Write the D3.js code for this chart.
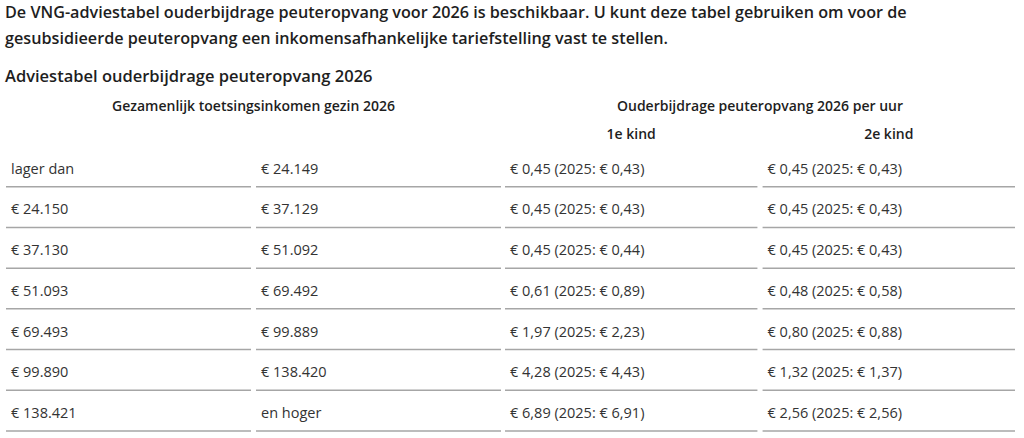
<!DOCTYPE html>
<html>
<head>
<meta charset="utf-8">
<script src="https://cdn.jsdelivr.net/npm/d3@7"></script>
<style>
  body { margin: 0; background: #fff; }
  text { font-family: "Open Sans", "Noto Sans", sans-serif; fill: #1e1e1e; }
</style>
</head>
<body>
<div id="chart"></div>
<script>
const incomeFrom = ["lager dan", 24150, 37130, 51093, 69493, 99890, 138421];
const incomeTo = [24149, 37129, 51092, 69492, 99889, 138420, "en hoger"];
const kind1_2026 = [0.45, 0.45, 0.45, 0.61, 1.97, 4.28, 6.89];
const kind1_2025 = [0.43, 0.43, 0.44, 0.89, 2.23, 4.43, 6.91];
const kind2_2026 = [0.45, 0.45, 0.45, 0.48, 0.80, 1.32, 2.56];
const kind2_2025 = [0.43, 0.43, 0.43, 0.58, 0.88, 1.37, 2.56];

const introLines = [
  "De VNG-adviestabel ouderbijdrage peuteropvang voor 2026 is beschikbaar. U kunt deze tabel gebruiken om voor de",
  "gesubsidieerde peuteropvang een inkomensafhankelijke tariefstelling vast te stellen."
];
const tableTitle = "Adviestabel ouderbijdrage peuteropvang 2026";
const groupHeaders = ["Gezamenlijk toetsingsinkomen gezin 2026", "Ouderbijdrage peuteropvang 2026 per uur"];
const subHeaders = ["", "", "1e kind", "2e kind"];

const width = 1024, height = 438;

const nl = d3.formatLocale({ decimal: ",", thousands: ".", grouping: [3], currency: ["€ ", ""] });
const fmtInt = nl.format(",d");
const fmtDec = nl.format(".2f");
const euro = v => typeof v === "number" ? "€ " + fmtInt(v) : v;
const price = (a, b) => `€ ${fmtDec(a)} (2025: € ${fmtDec(b)})`;

const rows = incomeFrom.map((d, i) => [
  euro(d),
  euro(incomeTo[i]),
  price(kind1_2026[i], kind1_2025[i]),
  price(kind2_2026[i], kind2_2025[i])
]);

const svg = d3.select("#chart")
  .append("svg")
  .attr("width", width)
  .attr("height", height);

// intro text
svg.selectAll("text.intro")
  .data(introLines)
  .join("text")
  .attr("class", "intro")
  .attr("x", 5)
  .attr("y", (d, i) => 18 + i * 26)
  .style("font-size", "16.2px")
  .style("font-weight", 600)
  .text(d => d);

svg.append("text")
  .attr("x", 5)
  .attr("y", 82)
  .style("font-size", "16.5px")
  .style("font-weight", 600)
  .text(tableTitle);

// two column groups, each split in two cells
const xLeft = d3.scaleBand().domain([0, 1]).range([6, 501]).paddingInner(0.02);
const xRight = d3.scaleBand().domain([2, 3]).range([505, 1015]).paddingInner(0.02);
const x = i => i < 2 ? xLeft(i) : xRight(i);
const bw = i => i < 2 ? xLeft.bandwidth() : xRight.bandwidth();

const y = d3.scaleBand()
  .domain(d3.range(rows.length))
  .range([146, 431]);

// group headers span two columns each
svg.selectAll("text.group")
  .data(groupHeaders)
  .join("text")
  .attr("class", "group")
  .attr("x", (d, i) => (x(i * 2) + x(i * 2 + 1) + bw(i * 2 + 1)) / 2)
  .attr("y", 111)
  .attr("text-anchor", "middle")
  .style("font-size", "14px")
  .style("font-weight", 600)
  .text(d => d);

svg.selectAll("text.sub")
  .data(subHeaders)
  .join("text")
  .attr("class", "sub")
  .attr("x", (d, i) => x(i) + bw(i) / 2)
  .attr("y", 139)
  .attr("text-anchor", "middle")
  .style("font-size", "14px")
  .style("font-weight", 600)
  .text(d => d);

const row = svg.selectAll("g.row")
  .data(rows)
  .join("g")
  .attr("class", "row")
  .attr("transform", (d, i) => `translate(0,${y(i)})`);

row.selectAll("text")
  .data(d => d)
  .join("text")
  .attr("x", (d, i) => x(i) + 5)
  .attr("y", y.bandwidth() - 13)
  .style("font-size", "14.5px")
  .style("fill", "#333")
  .text(d => d);

row.selectAll("line")
  .data(d3.range(4))
  .join("line")
  .attr("x1", i => x(i))
  .attr("x2", i => x(i) + bw(i))
  .attr("y1", y.bandwidth())
  .attr("y2", y.bandwidth())
  .attr("stroke", "#a6a6a6")
  .attr("stroke-width", 1.5);
</script>
</body>
</html>
